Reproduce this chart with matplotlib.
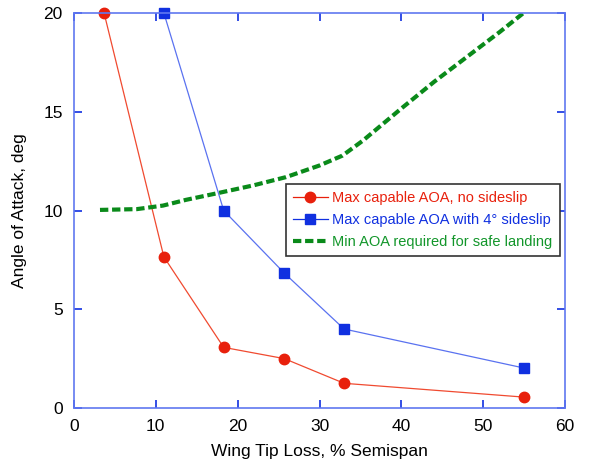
import matplotlib
matplotlib.use("Agg")
import matplotlib.pyplot as plt

plt.rcParams['font.family'] = ['Liberation Sans', 'DejaVu Sans']

# wing tip loss (% semispan) vs angle of attack (deg)
tip_loss = [3.7, 11.0, 18.3, 25.7, 33.0, 55.0]
aoa_no_slip = [20.0, 7.65, 3.07, 2.5, 1.25, 0.55]

tip_loss_slip = [11.0, 18.3, 25.7, 33.0, 55.0]
aoa_slip = [20.0, 10.0, 6.83, 4.0, 2.02]

tip_loss_min = [3.2, 7.7, 10.9, 13.7, 17.8, 21.9, 25.9, 30.0, 32.8, 35.3,
                40.0, 44.0, 48.0, 52.0, 54.9]
aoa_min = [10.03, 10.07, 10.25, 10.54, 10.9, 11.27, 11.69, 12.28, 12.78, 13.54,
           15.17, 16.52, 17.78, 19.04, 20.0]

red = '#e8200c'
blue = '#1030e0'
green = '#0a8a1a'
axis_blue = '#6078f0'

fig = plt.figure(figsize=(5.95, 4.65), dpi=100)
ax = fig.add_axes([0.124, 0.1226, 0.826, 0.8494])

ax.plot(tip_loss, aoa_no_slip, '-', color='#f04a30', lw=0.9, clip_on=False)
ax.plot(tip_loss, aoa_no_slip, 'o', color=red, ms=7.5, clip_on=False)
ax.plot(tip_loss_slip, aoa_slip, '-', color='#5a72f0', lw=0.9, clip_on=False)
ax.plot(tip_loss_slip, aoa_slip, 's', color=blue, ms=7.5, clip_on=False)
ax.plot(tip_loss_min, aoa_min, '--', color=green, lw=3, dashes=(2, 0.9))

# legend handles carry both the line and the marker
ax.plot([], [], '-o', color=red, lw=0.9, ms=7.5, label='Max capable AOA, no sideslip')
ax.plot([], [], '-s', color=blue, lw=0.9, ms=7.5,
        label='Max capable AOA with 4\u00b0 sideslip')
ax.plot([], [], '--', color=green, lw=3, dashes=(2, 0.9),
        label='Min AOA required for safe landing')

ax.set_xlim(0, 60)
ax.set_ylim(0, 20)
ax.set_xticks(range(0, 61, 10))
ax.set_yticks(range(0, 21, 5))
for s in ax.spines.values():
    s.set_color(axis_blue)
    s.set_linewidth(1.2)
ax.tick_params(direction='in', top=True, right=True, length=6, width=1.2,
               color=blue, labelsize=12.5, pad=8)

ax.set_xlabel('Wing Tip Loss, % Semispan', fontsize=12.5, labelpad=7)
ax.set_ylabel('Angle of Attack, deg', fontsize=12.5, labelpad=12)

leg = ax.legend(loc='upper right', bbox_to_anchor=(0.995, 0.575), fontsize=10.5,
                fancybox=False, framealpha=1, edgecolor='#333333',
                handlelength=2.4, handletextpad=0.3, borderpad=0.5,
                labelspacing=0.55, borderaxespad=0.2)
leg.get_frame().set_linewidth(1.2)
for txt, c in zip(leg.get_texts(), [red, blue, '#12962a']):
    txt.set_color(c)

fig.savefig('out.png', dpi=100)
